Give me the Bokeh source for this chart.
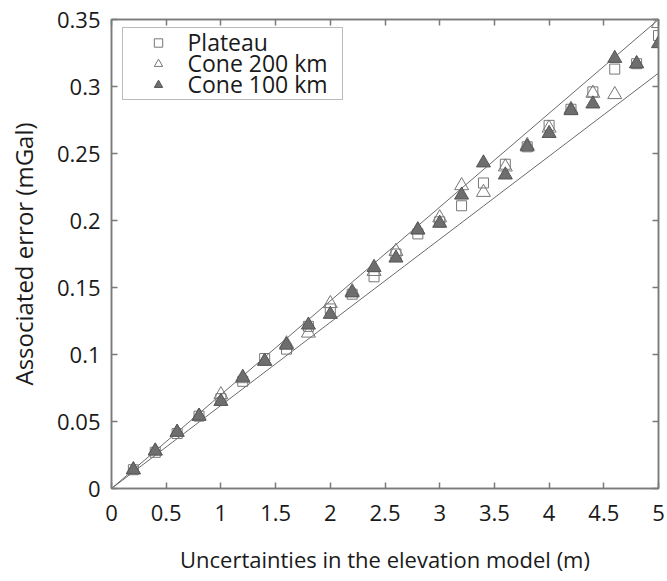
from bokeh.plotting import figure
from bokeh.models import LinearAxis, FixedTicker, Range1d, Legend, LegendItem, Label
from bokeh.embed import file_html
from bokeh.resources import INLINE

# ---- data ----
series_names = ["Plateau", "Cone 200 km", "Cone 100 km"]
x_vals = [0.2, 0.4, 0.6, 0.8, 1.0, 1.2, 1.4, 1.6, 1.8, 2.0, 2.2, 2.4, 2.6,
          2.8, 3.0, 3.2, 3.4, 3.6, 3.8, 4.0, 4.2, 4.4, 4.6, 4.8, 5.0]
plateau = [0.014, 0.027, 0.041, 0.054, 0.067, 0.080, 0.097, 0.104, 0.121, 0.134,
           0.145, 0.158, 0.175, 0.190, 0.199, 0.211, 0.228, 0.242, 0.255, 0.271,
           0.283, 0.296, 0.313, 0.317, 0.338]
cone200 = [0.014, 0.028, 0.042, 0.054, 0.070, 0.082, 0.095, 0.108, 0.116, 0.138,
           0.147, 0.162, 0.177, 0.193, 0.202, 0.226, 0.221, 0.240, 0.256, 0.269,
           0.283, 0.295, 0.294, 0.317, 0.347]
cone100 = [0.014, 0.028, 0.042, 0.054, 0.065, 0.083, 0.095, 0.107, 0.122, 0.130,
           0.146, 0.165, 0.172, 0.193, 0.198, 0.219, 0.243, 0.234, 0.255, 0.265,
           0.282, 0.287, 0.321, 0.317, 0.332]
line_x = [0, 5]
upper_y = [0, 0.35]
lower_y = [0, 0.31]

x_ticks = [0, 0.5, 1, 1.5, 2, 2.5, 3, 3.5, 4, 4.5, 5]
x_tick_labels = ["0", "0.5", "1", "1.5", "2", "2.5", "3", "3.5", "4", "4.5", "5"]
y_ticks = [0, 0.05, 0.1, 0.15, 0.2, 0.25, 0.3, 0.35]
y_tick_labels = ["0", "0.05", "0.1", "0.15", "0.2", "0.25", "0.3", "0.35"]

FONT = "Open Sans"
AX = "#7a7a7a"
TXT = "#1a1a1a"

p = figure(width=667, height=581, output_backend="svg", toolbar_location=None,
           x_range=Range1d(0, 5), y_range=Range1d(0, 0.35),
           min_border_left=111, min_border_right=9, min_border_top=19,
           min_border_bottom=93)
p.grid.visible = False
p.outline_line_color = AX
p.outline_line_width = 1.5
p.background_fill_color = "white"
p.border_fill_color = "white"

p.line(line_x, upper_y, line_color="#6a6a6a", line_width=1)
p.line(line_x, lower_y, line_color="#6a6a6a", line_width=1)

r_pl = p.scatter(x_vals, plateau, marker="square", size=10, fill_color=None,
                 line_color="#777777", line_width=1)
r_c2 = p.scatter(x_vals, cone200, marker="triangle", size=14, fill_color=None,
                 line_color="#777777", line_width=1)
r_c1 = p.scatter(x_vals, cone100, marker="triangle", size=14, fill_color="#6e6e6e",
                 line_color="#555555", line_width=1)

def style_axis(ax, ticks, labels, show_labels):
    ax.ticker = FixedTicker(ticks=ticks)
    ax.major_tick_in = 6
    ax.major_tick_out = 0
    ax.minor_tick_line_color = None
    ax.axis_line_color = AX
    ax.axis_line_width = 1.5
    ax.major_tick_line_color = AX
    ax.major_tick_line_width = 1.5
    ax.major_label_text_font = FONT
    ax.major_label_text_color = TXT
    if show_labels:
        ax.major_label_overrides = {t: l for t, l in zip(ticks, labels)}
        ax.major_label_text_font_size = "22px"
    else:
        ax.major_label_overrides = {t: "" for t in ticks}
        ax.major_label_text_font_size = "1px"
        ax.major_label_standoff = 0

xa = p.xaxis[0]
ya = p.yaxis[0]
style_axis(xa, x_ticks, x_tick_labels, True)
style_axis(ya, y_ticks, y_tick_labels, True)
xa.major_label_standoff = 16
ya.major_label_standoff = 11
xa.axis_label = "Uncertainties in the elevation model (m)"
ya.axis_label = "Associated error (mGal)"
for ax in (xa, ya):
    ax.axis_label_text_font = FONT
    ax.axis_label_text_font_style = "normal"
    ax.axis_label_text_color = TXT
xa.axis_label_text_font_size = "22px"
ya.axis_label_text_font_size = "24px"
xa.axis_label_standoff = 20
ya.axis_label_standoff = 14

top_ax = LinearAxis()
right_ax = LinearAxis()
p.add_layout(top_ax, "above")
p.add_layout(right_ax, "right")
style_axis(top_ax, x_ticks, x_tick_labels, False)
style_axis(right_ax, y_ticks, y_tick_labels, False)

# legend box with glyphs (labels drawn as separate text annotations so that
# rows can be as tight as in the reference)
legend = Legend(items=[LegendItem(label="", renderers=[r]) for r in (r_pl, r_c2, r_c1)],
                location=(11, 388))
legend.padding = 4
legend.spacing = 0
legend.glyph_width = 62
legend.glyph_height = 21
legend.label_height = 21
legend.label_width = 145
legend.label_standoff = 4
legend.label_text_font_size = "1px"
legend.border_line_color = "#777777"
legend.border_line_width = 1.5
legend.background_fill_color = None
p.add_layout(legend, "center")

for i, name in enumerate(series_names):
    p.add_layout(Label(x=76, y=447 - 21 * i, x_units="screen", y_units="screen",
                       text=name, text_font=FONT, text_font_size="23px",
                       text_color=TXT, text_baseline="middle", text_align="left"))

open("out.html", "w").write(file_html(p, INLINE))
